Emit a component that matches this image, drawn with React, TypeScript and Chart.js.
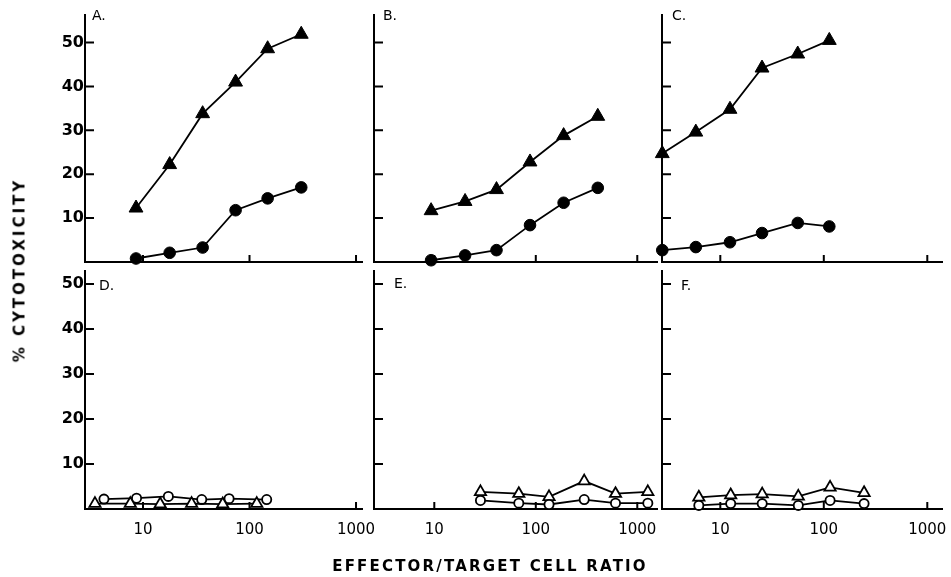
import React, { useEffect, useRef } from 'react';
import { Chart, registerables } from 'chart.js';
Chart.register(...registerables);

const W = 951;
const H = 577;

// ---- data (x = effector/target ratio, y = % cytotoxicity) ----
// Panel A
const aX = [8.6, 17.8, 36.3, 74, 148, 306];
const aTri = [12.3, 22.2, 33.8, 41.0, 48.6, 51.9];
const aCirc = [0.8, 2.1, 3.3, 11.8, 14.5, 17.0];
// Panel B
const bX = [9.3, 20.1, 41, 87.7, 188, 408];
const bTri = [11.7, 13.8, 16.5, 22.8, 28.8, 33.2];
const bCirc = [0.4, 1.5, 2.7, 8.4, 13.5, 16.9];
// Panel C
const cX = [2.75, 5.8, 12.4, 25.3, 56, 113];
const cTri = [24.7, 29.6, 34.8, 44.2, 47.4, 50.5];
const cCirc = [2.7, 3.4, 4.5, 6.6, 8.9, 8.1];
// Panel D
const dTriX = [3.54, 7.6, 14.5, 28.6, 56, 117];
const dTri = [1.2, 1.2, 1.1, 1.2, 1.1, 1.2];
const dCircX = [4.3, 8.7, 17.3, 35.6, 64.3, 145];
const dCirc = [2.2, 2.4, 2.8, 2.1, 2.3, 2.1];
// Panel E
const eX = [28.5, 68, 135, 300, 610, 1270];
const eTri = [3.8, 3.4, 2.7, 6.2, 3.4, 3.8];
const eCirc = [1.9, 1.3, 1.0, 2.1, 1.3, 1.3];
// Panel F
const fX = [6.2, 12.6, 25.4, 56.7, 115, 245];
const fTri = [2.6, 3.1, 3.3, 2.8, 4.8, 3.6];
const fCirc = [0.8, 1.2, 1.2, 0.8, 1.9, 1.2];

// tick values
const xTickValues = [10, 100, 1000];
const yTickValues = [10, 20, 30, 40, 50];

const xTitle = 'EFFECTOR/TARGET CELL RATIO';
const yTitle = '% CYTOTOXICITY';

type Series = { x: number[]; y: number[]; tri: boolean; filled: boolean };
type PanelSpec = {
  letter: string;
  left: number; right: number; top: number; bottom: number;
  xMin: number; xMax: number; yMax: number;
  xLabels: boolean; yLabels: boolean;
  series: Series[];
  lx: number; ly: number;
};

const YW = 40;
const XH = 30;

// column geometry
const cols = [
  { left: 85, right: 362, xMin: 2.854, xMax: 1138 },
  { left: 374, right: 657, xMin: 2.546, xMax: 1564 },
  { left: 662, right: 942, xMin: 2.733, xMax: 1387 },
];
const rows = [
  { top: 14.5, bottom: 262, yMax: 56.4 },
  { top: 270.5, bottom: 509, yMax: 53 },
];

const panels: PanelSpec[] = [
  { letter: 'A.', ...cols[0], ...rows[0], xLabels: false, yLabels: true, lx: 92, ly: 8,
    series: [{ x: aX, y: aTri, tri: true, filled: true }, { x: aX, y: aCirc, tri: false, filled: true }] },
  { letter: 'B.', ...cols[1], ...rows[0], xLabels: false, yLabels: false, lx: 383, ly: 8,
    series: [{ x: bX, y: bTri, tri: true, filled: true }, { x: bX, y: bCirc, tri: false, filled: true }] },
  { letter: 'C.', ...cols[2], ...rows[0], xLabels: false, yLabels: false, lx: 672, ly: 8,
    series: [{ x: cX, y: cTri, tri: true, filled: true }, { x: cX, y: cCirc, tri: false, filled: true }] },
  { letter: 'D.', ...cols[0], ...rows[1], xLabels: true, yLabels: true, lx: 99, ly: 278,
    series: [{ x: dTriX, y: dTri, tri: true, filled: false }, { x: dCircX, y: dCirc, tri: false, filled: false }] },
  { letter: 'E.', ...cols[1], ...rows[1], xLabels: true, yLabels: false, lx: 394, ly: 276,
    series: [{ x: eX, y: eCirc, tri: false, filled: false }, { x: eX, y: eTri, tri: true, filled: false }] },
  { letter: 'F.', ...cols[2], ...rows[1], xLabels: true, yLabels: false, lx: 681, ly: 278,
    series: [{ x: fX, y: fCirc, tri: false, filled: false }, { x: fX, y: fTri, tri: true, filled: false }] },
];

const inwardTicks = {
  id: 'inwardTicks',
  beforeDatasetsDraw(chart: any) {
    const { ctx, chartArea, scales } = chart;
    ctx.save();
    ctx.strokeStyle = '#000';
    ctx.lineWidth = 2;
    ctx.beginPath();
    scales.x.ticks.forEach((t: any) => {
      const px = scales.x.getPixelForValue(t.value);
      ctx.moveTo(px, chartArea.bottom);
      ctx.lineTo(px, chartArea.bottom - 7);
    });
    scales.y.ticks.forEach((t: any) => {
      const py = scales.y.getPixelForValue(t.value);
      ctx.moveTo(chartArea.left, py);
      ctx.lineTo(chartArea.left + 9, py);
    });
    ctx.stroke();
    ctx.restore();
  },
};

function Panel({ spec }: { spec: PanelSpec }) {
  const ref = useRef<HTMLCanvasElement | null>(null);
  useEffect(() => {
    if (!ref.current) return;
    const chart = new Chart(ref.current, {
      type: 'line',
      data: {
        datasets: spec.series.map((s) => ({
          data: s.x.map((x, i) => ({ x, y: s.y[i] })),
          borderColor: '#000',
          borderWidth: 1.8,
          pointStyle: s.tri ? 'triangle' : 'circle',
          pointRadius: s.filled ? (s.tri ? 8 : 5.8) : (s.tri ? 6.5 : 4.6),
          pointBackgroundColor: s.filled ? '#000' : '#fff',
          pointBorderColor: '#000',
          pointBorderWidth: s.filled ? 1 : 1.8,
          tension: 0,
          fill: false,
          clip: false as any,
        })),
      },
      options: {
        responsive: false,
        animation: false,
        events: [],
        layout: {
          padding: {
            left: spec.left - YW,
            right: W - spec.right,
            top: spec.top,
            bottom: H - spec.bottom - XH,
          },
        },
        plugins: { legend: { display: false }, tooltip: { enabled: false } },
        scales: {
          x: {
            type: 'logarithmic',
            position: 'bottom',
            min: spec.xMin,
            max: spec.xMax,
            afterBuildTicks: (s: any) => {
              s.ticks = xTickValues.filter((v) => v >= spec.xMin && v <= spec.xMax).map((v) => ({ value: v }));
            },
            afterFit: (s: any) => {
              s.height = XH;
              s.paddingLeft = 0;
              s.paddingRight = 0;
            },
            grid: { display: false, drawTicks: false },
            border: { display: true, color: '#000', width: 2 },
            ticks: {
              display: spec.xLabels,
              autoSkip: false,
              maxRotation: 0,
              padding: 12,
              color: '#000',
              font: { family: 'DejaVu Sans', size: 15 },
              callback: (v: any) => String(v),
            },
          },
          y: {
            type: 'linear',
            position: 'left',
            min: 0,
            max: spec.yMax,
            afterBuildTicks: (s: any) => {
              s.ticks = yTickValues.map((v) => ({ value: v }));
            },
            afterFit: (s: any) => {
              s.width = YW;
              s.paddingTop = 0;
              s.paddingBottom = 0;
            },
            grid: { display: false, drawTicks: false },
            border: { display: true, color: '#000', width: 2 },
            ticks: {
              display: spec.yLabels,
              padding: 1,
              color: '#000',
              font: { family: 'DejaVu Sans', size: 16, weight: 'bold' },
              callback: (v: any) => String(v),
            },
          },
        },
      },
      plugins: [inwardTicks],
    } as any);
    return () => chart.destroy();
  }, [spec]);
  return (
    <canvas
      ref={ref}
      width={W}
      height={H}
      style={{ position: 'absolute', left: 0, top: 0, width: W, height: H }}
    />
  );
}

export default function App() {
  return (
    <div
      style={{
        position: 'fixed', left: 0, top: 0, width: W, height: H,
        background: '#fff', overflow: 'hidden', fontFamily: 'DejaVu Sans', color: '#000',
      }}
    >
      {panels.map((p) => (
        <Panel key={p.letter} spec={p} />
      ))}
      {panels.map((p) => (
        <div
          key={'l' + p.letter}
          style={{ position: 'absolute', left: p.lx, top: p.ly, fontSize: 14, lineHeight: '14px' }}
        >
          {p.letter}
        </div>
      ))}
      <div
        style={{
          position: 'absolute', left: 490, top: 559, transform: 'translateX(-50%)',
          whiteSpace: 'nowrap', fontSize: 15, lineHeight: '15px', fontWeight: 'bold', letterSpacing: '2.2px',
        }}
      >
        {xTitle}
      </div>
      <div
        style={{
          position: 'absolute', left: 20, top: 270, transform: 'translate(-50%, -50%) rotate(-90deg)',
          whiteSpace: 'nowrap', fontSize: 15, lineHeight: '15px', fontWeight: 'bold', letterSpacing: '3px',
        }}
      >
        {yTitle}
      </div>
    </div>
  );
}
